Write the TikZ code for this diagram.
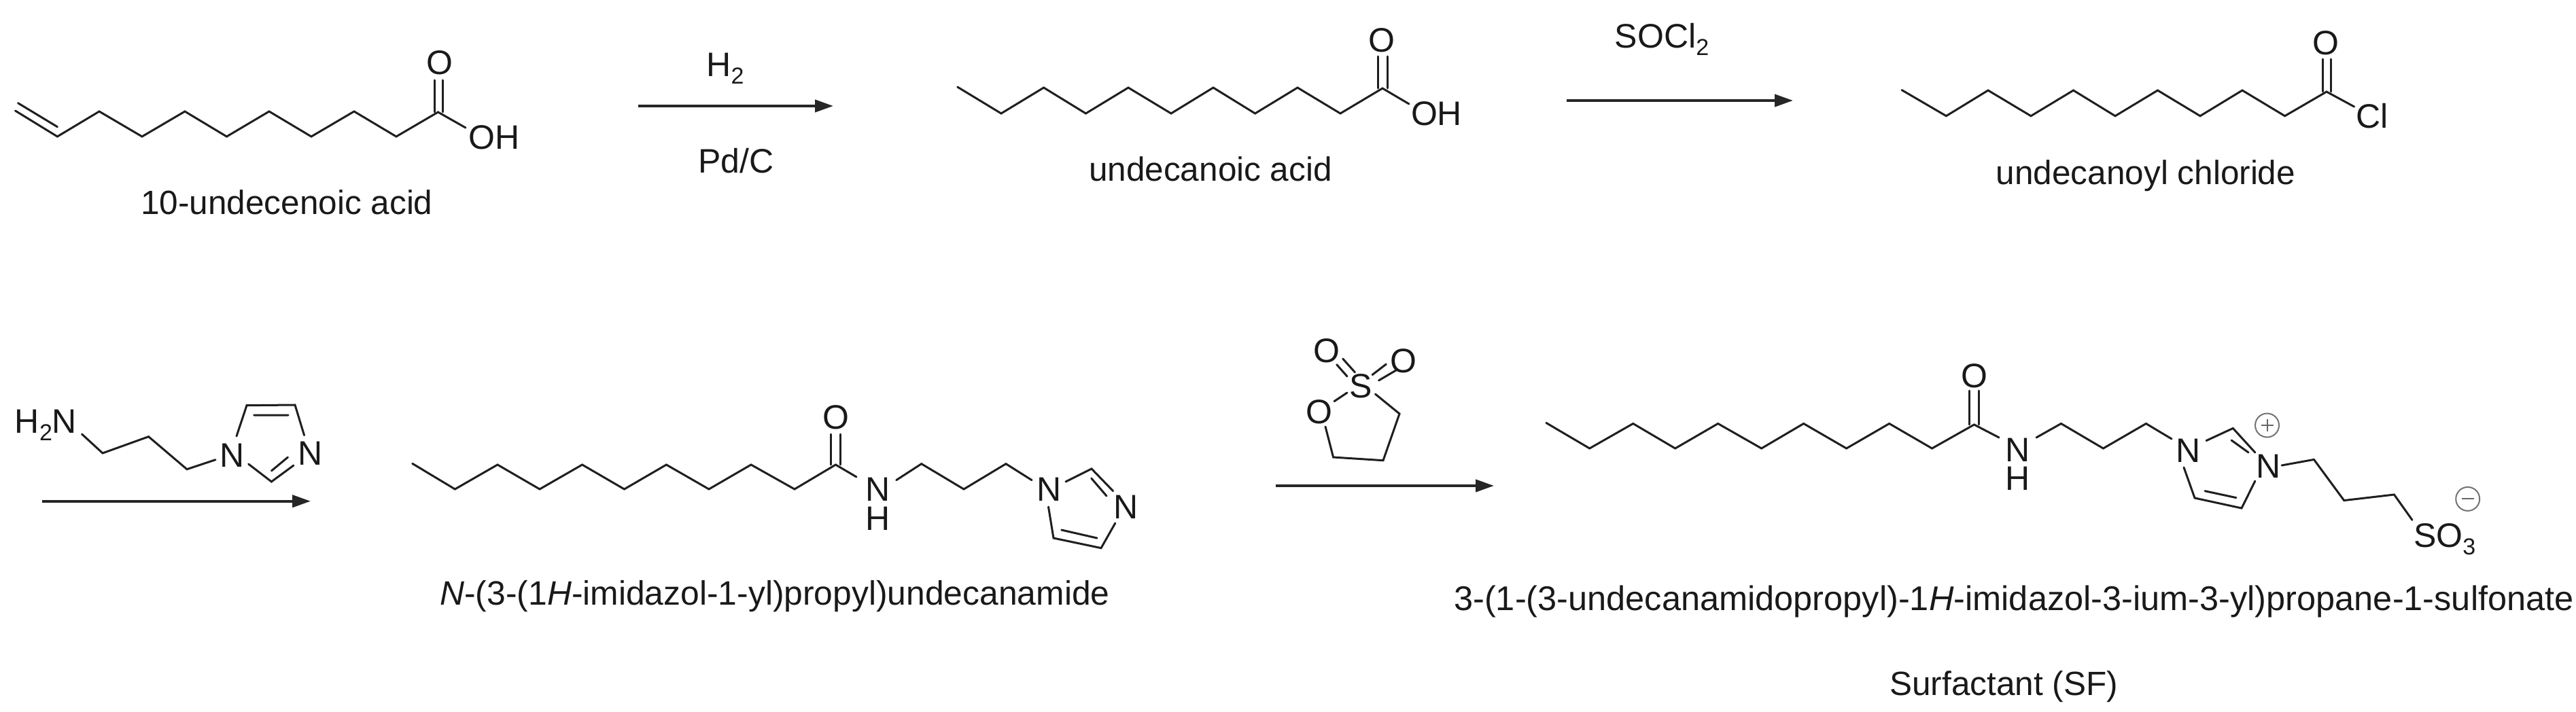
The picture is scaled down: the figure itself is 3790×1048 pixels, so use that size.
\documentclass[tikz,border=0pt]{standalone}
\usepackage{fontspec}
\setmainfont{Liberation Sans}
\usetikzlibrary{arrows.meta}
\newcommand{\lowtxt}[1]{\raisebox{-11pt}{\fontsize{34}{40}\selectfont #1}}
\tikzset{
  x=1pt,y=-1pt,
  bond/.style={line width=3pt,draw=black!88,line join=miter,line cap=round},
  rxn/.style={line width=4pt,draw=black!85,-{Triangle[length=27pt,width=18pt]}},
  atom/.style={inner sep=0pt,outer sep=0pt,anchor=base,font=\fontsize{50}{60}\selectfont,text=black!90},
  caption/.style={inner sep=0pt,outer sep=0pt,anchor=base,font=\fontsize{49.5}{60}\selectfont,text=black!90},
  charge/.style={circle,draw=black!55,line width=2pt,minimum size=35pt,inner sep=0pt}
}
\newcommand{\pts}[1]{\foreach \n/\u/\v in {#1}{\coordinate (\n) at (\u,\v);}}
\begin{document}
\begin{tikzpicture}
\useasboundingbox (0,0) rectangle (3790,1048);
% molecule 1
\pts{a0/22.5/163,a1/84.4/201,a2/146/164,a3/209/201,a4/272/164,a5/333.5/201,a6/396/164,a7/458/201,a8/521/164,a9/583/201,a10/644.5/165,av1/26.5/151.7,av2/84.4/186.7,ao1/639/118,ao2/651/118,ao3/639/165,ao4/651/165,ah/685/188}
\draw[bond] (a0) -- (a1) -- (a2) -- (a3) -- (a4) -- (a5) -- (a6) -- (a7) -- (a8) -- (a9) -- (a10) -- (ah);
\draw[bond] (av1) -- (av2);
\draw[bond] (ao1) -- (ao3) (ao2) -- (ao4);
\node[atom] (aO) at (647,110) {O};
\node[atom] (aOH) at (727,220) {OH};
\node[caption] (aname) at (422,316) {10-undecenoic acid};
% arrow 1
\coordinate (r1s) at (939,156); \coordinate (r1e) at (1226,156);
\draw[rxn] (r1s) -- (r1e);
\node[atom] (r1a) at (1067,113) {H\lowtxt{2}};
\node[atom] (r1b) at (1083,255) {Pd/C};
% molecule 2
\pts{b0/1408.7/128,b1/1473/167,b2/1535.6/129,b3/1597.5/167,b4/1660/129,b5/1723/167,b6/1785/129,b7/1846.6/167,b8/1909/129,b9/1972/167,b10/2034/130,bo1/2027.6/83,bo2/2041/83,bo3/2027.6/130,bo4/2041/130,bh/2073/153}
\draw[bond] (b0) -- (b1) -- (b2) -- (b3) -- (b4) -- (b5) -- (b6) -- (b7) -- (b8) -- (b9) -- (b10) -- (bh);
\draw[bond] (bo1) -- (bo3) (bo2) -- (bo4);
\node[atom] (bO) at (2033,77) {O};
\node[atom] (bOH) at (2113.5,185) {OH};
\node[caption] (bname) at (1781,267) {undecanoic acid};
% arrow 2
\coordinate (r2s) at (2305,148); \coordinate (r2e) at (2638,148);
\draw[rxn] (r2s) -- (r2e);
\node[atom] (r2a) at (2445,71) {SOCl\lowtxt{2}};
% molecule 3
\pts{c0/2798/132.5,c1/2863.4/170.7,c2/2925/133,c3/2988/170.7,c4/3050.5/133,c5/3112/170.7,c6/3174.5/133,c7/3237/170.7,c8/3299/133,c9/3361.6/170.7,c10/3423/135,co1/3417/87,co2/3429/87,co3/3417/135,co4/3429/135,ch/3463.6/157}
\draw[bond] (c0) -- (c1) -- (c2) -- (c3) -- (c4) -- (c5) -- (c6) -- (c7) -- (c8) -- (c9) -- (c10) -- (ch);
\draw[bond] (co1) -- (co3) (co2) -- (co4);
\node[atom] (cO) at (3422,81) {O};
\node[atom] (cCl) at (3490,189) {Cl};
\node[caption] (cname) at (3157,272) {undecanoyl chloride};
% amine reagent
\node[atom] (dA) at (67.5,637) {H\lowtxt{2}N};
\node[atom] (dN1) at (341.5,687) {N};
\node[atom] (dN2) at (456.5,684) {N};
\pts{d1/120.5/639,d2/151/667,d3/218.6/642.7,d4/275/690.7,d5/317/676.7,d6/348/642,d7/363/596.7,d8/434/596,d9/447.6/640.7,d10/365.6/683,d11/399.4/709,d12/432/685,d13/373.7/611,d14/424/611,d15/399.4/693,d16/423.5/673}
\draw[bond] (d1) -- (d2) -- (d3) -- (d4) -- (d5);
\draw[bond] (d6) -- (d7) -- (d8) -- (d9);
\draw[bond] (d10) -- (d11) -- (d12);
\draw[bond] (d13) -- (d14) (d15) -- (d16);
% arrow 3
\coordinate (r3s) at (62,737.7); \coordinate (r3e) at (457,737.7);
\draw[rxn] (r3s) -- (r3e);
% molecule 4
\pts{e0/606.7/682.3,e1/669.4/720,e2/732/684,e3/794/720,e4/856.6/684,e5/918.5/720,e6/980.4/684,e7/1043/720,e8/1105/684,e9/1169/720,e10/1229.5/684,eo1/1222/639,eo2/1236/639,eo3/1222/684,eo4/1236/684,eb/1260/702,
 f1/1318.7/706.7,f2/1355.7/682.7,f3/1418/720,f4/1480/682.7,f5/1518/706.7,f6/1568/709,f7/1606/690,f8/1637.6/722.7,f9/1605.7/704,f10/1628/730,f11/1640.8/770,f12/1620/806.7,f13/1550/792,f14/1542.5/746,f15/1614/792,f16/1561.7/780}
\draw[bond] (e0) -- (e1) -- (e2) -- (e3) -- (e4) -- (e5) -- (e6) -- (e7) -- (e8) -- (e9) -- (e10) -- (eb);
\draw[bond] (eo1) -- (eo3) (eo2) -- (eo4);
\draw[bond] (f1) -- (f2) -- (f3) -- (f4) -- (f5);
\draw[bond] (f6) -- (f7) -- (f8) (f9) -- (f10);
\draw[bond] (f11) -- (f12) -- (f13) -- (f14) (f15) -- (f16);
\node[atom] (eO) at (1229.5,631) {O};
\node[atom] (eN) at (1292,737) {N};
\node[atom] (eH) at (1292,780) {H};
\node[atom] (fN1) at (1544,737) {N};
\node[atom] (fN2) at (1656.7,763) {N};
\node[caption,font=\fontsize{49.8}{60}\selectfont] (ename) at (1140,890) {\textit{N}-(3-(1\textit{H}-imidazol-1-yl)propyl)undecanamide};
% sultone reagent
\node[atom] (gS) at (2001.8,585) {S};
\node[atom] (gO1) at (1952,533) {O};
\node[atom] (gO2) at (2065,548) {O};
\node[atom] (gO3) at (1941,623) {O};
\pts{g1/1975.6/528,g2/1993.5/548,g3/1966.7/536.7,g4/1982/554,g5/2028.5/560,g6/2054/545,g7/2019/551.7,g8/2039.4/536,g9/1982/578,g10/1963/590.7,g11/2023.4/580,g12/2059/609,g13/2035/677.7,g14/1961.6/673,g15/1950/628}
\draw[bond] (g1) -- (g2) (g3) -- (g4) (g5) -- (g6) (g7) -- (g8) (g9) -- (g10);
\draw[bond] (g11) -- (g12) -- (g13) -- (g14) -- (g15);
% arrow 4
\coordinate (r4s) at (1877,715); \coordinate (r4e) at (2198,715);
\draw[rxn] (r4s) -- (r4e);
% molecule 5
\pts{h0/2274.8/622.4,h1/2338.7/660,h2/2402.7/623.5,h3/2464.7/660,h4/2527.6/623.5,h5/2591.6/660,h6/2653.6/623.5,h7/2716.6/660,h8/2779.6/623.5,h9/2842.5/660,h10/2904.5/625,ho1/2897.6/575,ho2/2911.4/575,ho3/2897.6/625,ho4/2911.4/625,hb/2941/644,
 i1/2996/644,i2/3032.4/623.5,i3/3094.4/660,i4/3157.4/623.5,i5/3195/646,i6/3246/648.6,i7/3285.3/630.4,i8/3317.8/666,i9/3283/648,i10/3308/666,i11/3317.8/708,i12/3298/748,i13/3229/733,i14/3213/688,i15/3290/732.6,i16/3244/722.7,
 j1/3357/685,j2/3404.4/676.4,j3/3448.7/736.6,j4/3522.4/728,j5/3549/765.4}
\draw[bond] (h0) -- (h1) -- (h2) -- (h3) -- (h4) -- (h5) -- (h6) -- (h7) -- (h8) -- (h9) -- (h10) -- (hb);
\draw[bond] (ho1) -- (ho3) (ho2) -- (ho4);
\draw[bond] (i1) -- (i2) -- (i3) -- (i4) -- (i5);
\draw[bond] (i6) -- (i7) -- (i8) (i9) -- (i10);
\draw[bond] (i11) -- (i12) -- (i13) -- (i14) (i15) -- (i16);
\draw[bond] (j1) -- (j2) -- (j3) -- (j4) -- (j5);
\node[atom] (hO) at (2904.5,570.5) {O};
\node[atom] (hN) at (2968.5,679) {N};
\node[atom] (hH) at (2968.5,721) {H};
\node[atom] (iN1) at (3219.4,680) {N};
\node[atom] (iN2) at (3337.5,703) {N};
\node[charge] (iplus) at (3335.5,626) {};
\draw[line width=2pt,draw=black!60] (iplus.center) ++(-9,0) -- ++(18,0) (iplus.center) ++(0,-9) -- ++(0,18);
\node[atom,anchor=base west] (jS) at (3551,805) {SO\lowtxt{3}};
\node[charge] (jminus) at (3630.7,734.4) {};
\draw[line width=2pt,draw=black!60] (jminus.center) ++(-9,0) -- ++(18,0);
\node[caption,font=\fontsize{50.5}{60}\selectfont] (hname) at (2963,898) {3-(1-(3-undecanamidopropyl)-1\textit{H}-imidazol-3-ium-3-yl)propane-1-sulfonate};
\node[caption] (hsf) at (2948,1023) {Surfactant (SF)};
\end{tikzpicture}
\end{document}
